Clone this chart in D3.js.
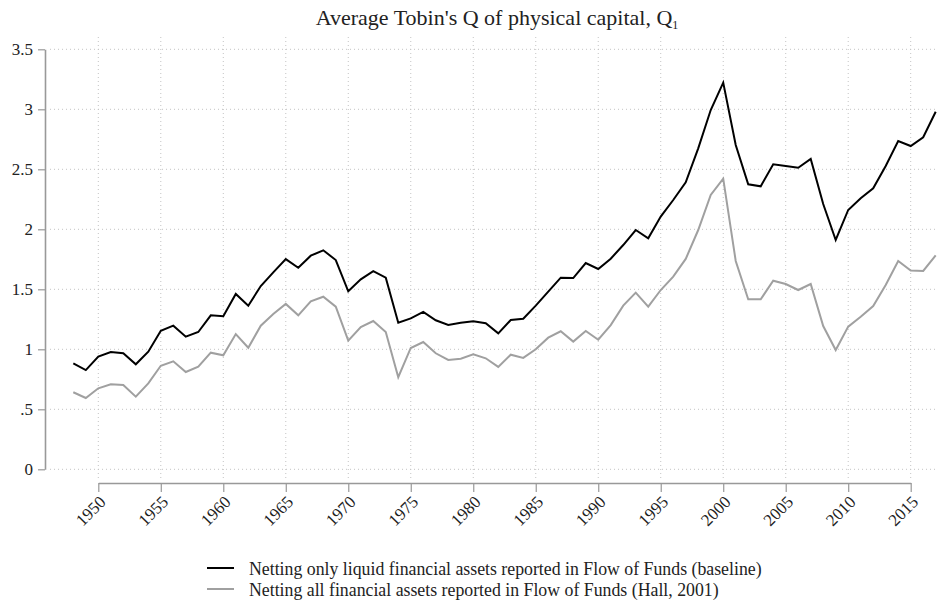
<!DOCTYPE html>
<html>
<head>
<meta charset="utf-8">
<script src="https://cdn.jsdelivr.net/npm/d3@7"></script>
<style>
  body { margin: 0; background: #fff; }
  svg text { font-family: "Liberation Serif", "DejaVu Serif", serif; fill: #222; }
</style>
</head>
<body>
<div id="chart"></div>
<script>
const width = 939;
const height = 609;

const years = d3.range(1948, 2018);

// Netting only liquid financial assets (baseline)
const baseline = [
  0.883, 0.827, 0.94, 0.977, 0.967, 0.875, 0.98, 1.155, 1.197, 1.105,
  1.144, 1.283, 1.275, 1.461, 1.363, 1.527, 1.641, 1.752, 1.68, 1.78,
  1.825, 1.744, 1.483, 1.583, 1.652, 1.597, 1.222, 1.258, 1.311, 1.242,
  1.203, 1.222, 1.233, 1.217, 1.133, 1.244, 1.255, 1.364, 1.48, 1.597,
  1.594, 1.719, 1.669, 1.755, 1.869, 1.994, 1.925, 2.106, 2.244, 2.391,
  2.675, 2.994, 3.222, 2.703, 2.375, 2.358, 2.542, 2.528, 2.513, 2.586,
  2.211, 1.911, 2.161, 2.258, 2.342, 2.528, 2.736, 2.694, 2.767, 2.98
];

// Netting all financial assets (Hall, 2001)
const hall = [
  0.642, 0.594, 0.675, 0.708, 0.702, 0.605, 0.716, 0.863, 0.9, 0.811,
  0.855, 0.972, 0.95, 1.127, 1.013, 1.197, 1.294, 1.378, 1.283, 1.4,
  1.438, 1.355, 1.072, 1.186, 1.236, 1.144, 0.767, 1.011, 1.061, 0.967,
  0.911, 0.922, 0.958, 0.925, 0.853, 0.955, 0.928, 1.0, 1.097, 1.15,
  1.064, 1.153, 1.08, 1.202, 1.364, 1.472, 1.355, 1.494, 1.605, 1.753,
  1.994, 2.286, 2.422, 1.736, 1.417, 1.417, 1.572, 1.544, 1.494, 1.544,
  1.194, 0.994, 1.189, 1.272, 1.361, 1.536, 1.736, 1.656, 1.653, 1.783
];

const yTicks = [0, 0.5, 1, 1.5, 2, 2.5, 3, 3.5];
const xTicks = d3.range(1950, 2016, 5);

const seriesNames = [
  "Netting only liquid financial assets reported in Flow of Funds (baseline)",
  "Netting all financial assets reported in Flow of Funds (Hall, 2001)"
];
const seriesColors = ["#000000", "#a0a0a0"];

const serif = '"Liberation Serif", "DejaVu Serif", serif';

const svg = d3.select("#chart").append("svg")
  .attr("width", width)
  .attr("height", height);

const x = d3.scaleLinear().domain([1950, 2015]).range([98.3, 910.7]);
const y = d3.scaleLinear().domain([0, 3.5]).range([469.3, 49.3]);

// grid
svg.append("g").selectAll("line")
  .data(yTicks)
  .join("line")
  .attr("x1", 50).attr("x2", 938)
  .attr("y1", d => y(d)).attr("y2", d => y(d))
  .attr("stroke", "#c4c4c4")
  .attr("stroke-dasharray", "1,3");

svg.append("g").selectAll("line")
  .data(xTicks)
  .join("line")
  .attr("x1", d => x(d)).attr("x2", d => x(d))
  .attr("y1", 37).attr("y2", 480)
  .attr("stroke", "#c4c4c4")
  .attr("stroke-dasharray", "1,3");

// y axis
const yAxis = svg.append("g")
  .attr("transform", "translate(45,0)")
  .call(d3.axisLeft(y).tickValues(yTicks).tickSize(7).tickSizeOuter(0).tickPadding(5)
    .tickFormat(d => d === 0 ? "0" : d === 0.5 ? ".5" : String(d)));
yAxis.select(".domain").attr("stroke", "#999").attr("stroke-width", 1.6);
yAxis.selectAll(".tick line").attr("stroke", "#999").attr("stroke-width", 1.2);
yAxis.selectAll("text")
  .style("font-family", serif)
  .style("font-size", "17px")
  .attr("fill", "#222");

// x axis
const xAxis = svg.append("g")
  .attr("transform", "translate(0,483)")
  .call(d3.axisBottom(x).tickValues(xTicks).tickSize(9).tickSizeOuter(0)
    .tickFormat(d3.format("d")));
xAxis.select(".domain").attr("stroke", "#999").attr("stroke-width", 1.6);
xAxis.selectAll(".tick line").attr("stroke", "#999").attr("stroke-width", 1.2);
xAxis.selectAll("text")
  .style("font-family", serif)
  .style("font-size", "17px")
  .attr("fill", "#222")
  .attr("text-anchor", "end")
  .attr("x", 0).attr("y", 0).attr("dy", 0)
  .attr("transform", "translate(8,20) rotate(-45)");

// lines
const line = d3.line()
  .x((d, i) => x(years[i]))
  .y(d => y(d));

svg.append("path")
  .datum(hall)
  .attr("fill", "none")
  .attr("stroke", seriesColors[1])
  .attr("stroke-width", 2)
  .attr("d", line);

svg.append("path")
  .datum(baseline)
  .attr("fill", "none")
  .attr("stroke", seriesColors[0])
  .attr("stroke-width", 2)
  .attr("d", line);

// title
const title = svg.append("text")
  .attr("x", 497)
  .attr("y", 25)
  .attr("text-anchor", "middle")
  .style("font-family", serif)
  .style("font-size", "22px");
title.append("tspan").text("Average Tobin's Q of physical capital, Q");
title.append("tspan").attr("dy", 4).style("font-size", "12px").text("1");

// legend
const legend = svg.append("g").selectAll("g")
  .data(seriesNames)
  .join("g")
  .attr("transform", (d, i) => `translate(207, ${568 + i * 21})`);
legend.append("line")
  .attr("x1", 0).attr("x2", 27)
  .attr("stroke", (d, i) => seriesColors[i])
  .attr("stroke-width", 2);
legend.append("text")
  .attr("x", 42)
  .attr("dy", "0.38em")
  .style("font-family", serif)
  .style("font-size", "17.8px")
  .text(d => d);
</script>
</body>
</html>
